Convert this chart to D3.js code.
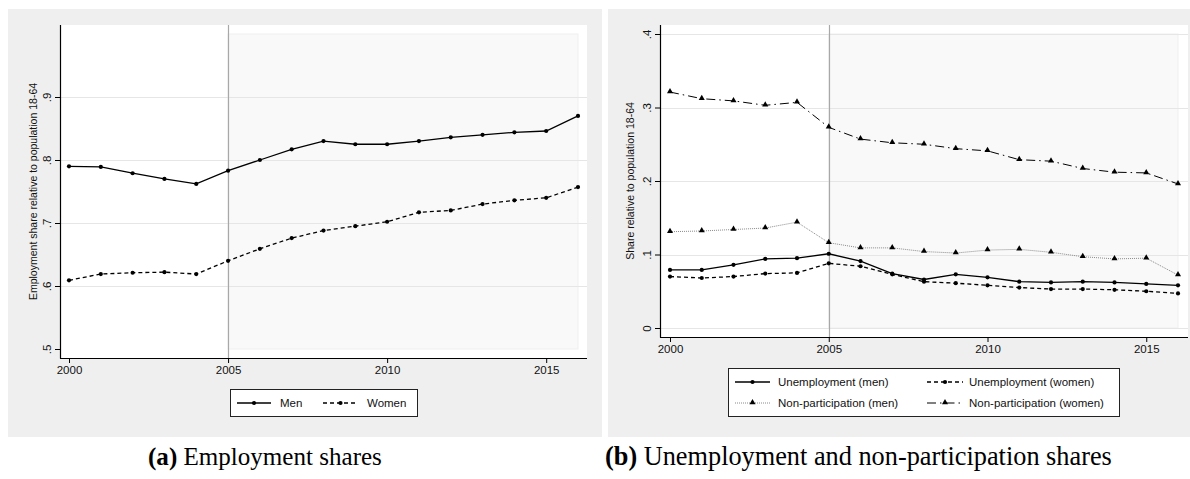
<!DOCTYPE html>
<html>
<head>
<meta charset="utf-8">
<script src="https://cdn.jsdelivr.net/npm/d3@7/dist/d3.min.js"></script>
<style>
  body { margin: 0; background: #ffffff; }
  svg { display: block; }
  text { font-family: "Liberation Sans", Arial, sans-serif; fill: #111; }
  .caption, .caption tspan { font-family: "Liberation Serif", "DejaVu Serif", serif; fill: #000; }
</style>
</head>
<body>
<svg id="chart" width="1190" height="479"></svg>
<script>
// ---- Data -----------------------------------------------------------------
const years = [2000, 2001, 2002, 2003, 2004, 2005, 2006, 2007, 2008,
               2009, 2010, 2011, 2012, 2013, 2014, 2015, 2016];
const xTickYears = [2000, 2005, 2010, 2015];

// Employment share relative to population 18-64
const employmentMen   = [.790, .789, .779, .770, .762, .783, .800, .817, .830,
                         .825, .825, .830, .836, .840, .844, .846, .870];
const employmentWomen = [.609, .619, .621, .622, .619, .640, .659, .676, .688,
                         .695, .702, .717, .720, .730, .736, .740, .757];

// Unemployment and non-participation shares
const unemploymentMen      = [.079, .079, .086, .094, .095, .101, .091, .074, .066,
                              .073, .069, .063, .062, .063, .062, .060, .058];
const unemploymentWomen    = [.070, .068, .070, .074, .075, .088, .084, .073, .063,
                              .061, .058, .055, .053, .053, .052, .050, .047];
const nonParticipationMen  = [.131, .132, .134, .136, .144, .116, .109, .109, .104,
                              .102, .106, .107, .103, .097, .094, .095, .072];
const nonParticipationWomen= [.321, .312, .309, .303, .307, .273, .257, .252, .250,
                              .244, .241, .229, .227, .217, .212, .211, .196];

const yTicksA = [.5, .6, .7, .8, .9];
const yTickLabelsA = [".5", ".6", ".7", ".8", ".9"];
const yTicksB = [0, .1, .2, .3, .4];
const yTickLabelsB = ["0", ".1", ".2", ".3", ".4"];

const legendA = ["Men", "Women"];
const legendB = ["Unemployment (men)", "Unemployment (women)",
                 "Non-participation (men)", "Non-participation (women)"];

const captionA = ["(a)", " Employment shares"];
const captionB = ["(b)", " Unemployment and non-participation shares"];

// ---- Styles ---------------------------------------------------------------
const styles = {
  solid:    { stroke: "#000", width: 1.3, dash: null, marker: "dot" },
  dashed:   { stroke: "#000", width: 1.3, dash: "4,3", marker: "dot" },
  dotted:   { stroke: "#8a8a8a", width: 1, dash: "1,1", marker: "tri" },
  dashdot:  { stroke: "#000", width: 1, dash: "9,4,1.5,4", marker: "tri" }
};

const svg = d3.select("#chart");

function marker(g, kind, cx, cy) {
  if (kind === "dot") {
    g.append("circle").attr("cx", cx).attr("cy", cy).attr("r", 2.1).attr("fill", "#000");
  } else {
    const s = d3.symbol().type(d3.symbolTriangle).size(16);
    g.append("path").attr("d", s()).attr("transform", `translate(${cx},${cy - 0.5})`).attr("fill", "#000");
  }
}

function drawPanel(cfg) {
  const g = svg.append("g");
  const { box, plot } = cfg;

  // panel background and plot region
  g.append("rect").attr("x", box.x0).attr("y", box.y0)
    .attr("width", box.x1 - box.x0).attr("height", box.y1 - box.y0).attr("fill", "#efefef");
  g.append("rect").attr("x", plot.x0).attr("y", plot.y0)
    .attr("width", plot.x1 - plot.x0).attr("height", plot.y1 - plot.y0).attr("fill", "#ffffff");

  const x = d3.scaleLinear().domain([2000, 2016]).range(cfg.xRange);
  const y = d3.scaleLinear().domain(cfg.yDomain).range(cfg.yRange);

  // shaded post-2005 window
  g.append("rect")
    .attr("x", x(2005)).attr("y", y(cfg.shadeY[1]))
    .attr("width", x(2016) - x(2005)).attr("height", y(cfg.shadeY[0]) - y(cfg.shadeY[1]))
    .attr("fill", "#f9f9f9").attr("stroke", "#efefef").attr("stroke-width", 1);

  // horizontal grid
  g.selectAll(".grid").data(cfg.gridVals).join("line")
    .attr("x1", plot.x0).attr("x2", plot.x1)
    .attr("y1", d => Math.round(y(d)) + 0.5).attr("y2", d => Math.round(y(d)) + 0.5)
    .attr("stroke", "#e6e6e6").attr("stroke-width", 1);

  // reference year line
  g.append("line")
    .attr("x1", Math.round(x(2005)) + 0.5).attr("x2", Math.round(x(2005)) + 0.5)
    .attr("y1", plot.y0).attr("y2", plot.y1)
    .attr("stroke", "#a8a8a8").attr("stroke-width", 1.2);

  // axes
  const xAxis = d3.axisBottom(x).tickValues(xTickYears).tickFormat(d3.format("d"))
    .tickSize(5).tickPadding(3);
  const xg = g.append("g").attr("transform", `translate(0,${plot.y1})`).call(xAxis);
  xg.select(".domain").remove();
  xg.selectAll("line").attr("stroke", "#000");
  xg.selectAll("text").attr("font-size", 11.5).attr("fill", "#111")
    .attr("font-family", '"Liberation Sans", Arial, sans-serif');

  const yAxis = d3.axisLeft(y).tickValues(cfg.yTicks)
    .tickFormat((d, i) => cfg.yTickLabels[i]).tickSize(5);
  const yg = g.append("g").attr("transform", `translate(${plot.x0},0)`).call(yAxis);
  yg.select(".domain").remove();
  yg.selectAll("line").attr("stroke", "#000");
  yg.selectAll("text")
    .attr("x", null).attr("y", 0).attr("dy", "0.35em")
    .attr("text-anchor", "middle")
    .attr("transform", "translate(-13,0) rotate(-90)")
    .attr("font-size", 11.5).attr("fill", "#111")
    .attr("font-family", '"Liberation Sans", Arial, sans-serif');

  g.append("line").attr("x1", plot.x0 + 0.5).attr("x2", plot.x0 + 0.5)
    .attr("y1", plot.y0).attr("y2", plot.y1 + 0.5).attr("stroke", "#000").attr("stroke-width", 1.2);
  g.append("line").attr("x1", plot.x0).attr("x2", plot.x1)
    .attr("y1", plot.y1 + 0.5).attr("y2", plot.y1 + 0.5).attr("stroke", "#000").attr("stroke-width", 1.2);

  // axis title
  g.append("text")
    .attr("transform", `translate(${cfg.titleX},${(plot.y0 + plot.y1) / 2}) rotate(-90)`)
    .attr("text-anchor", "middle").attr("dy", "0.35em")
    .attr("font-size", 10.5).text(cfg.yTitle);

  // series
  const line = d3.line().x((d, i) => x(years[i])).y(d => y(d));
  cfg.series.forEach(s => {
    const st = styles[s.style];
    g.append("path").attr("d", line(s.values)).attr("fill", "none")
      .attr("stroke", st.stroke).attr("stroke-width", st.width)
      .attr("stroke-dasharray", st.dash);
    const mg = g.append("g");
    s.values.forEach((v, i) => marker(mg, st.marker, x(years[i]), y(v)));
  });

  // legend
  const L = cfg.legend;
  g.append("rect").attr("x", L.x0 + 0.5).attr("y", L.y0 + 0.5)
    .attr("width", L.x1 - L.x0).attr("height", L.y1 - L.y0)
    .attr("fill", "#fff").attr("stroke", "#222").attr("stroke-width", 1);
  L.items.forEach(it => {
    const st = styles[it.style];
    g.append("line").attr("x1", it.sx0).attr("x2", it.sx1).attr("y1", it.y).attr("y2", it.y)
      .attr("stroke", st.stroke).attr("stroke-width", st.width).attr("stroke-dasharray", st.dash);
    marker(g, st.marker, (it.sx0 + it.sx1) / 2, it.y);
    g.append("text").attr("x", it.tx).attr("y", it.y).attr("dy", "0.35em")
      .attr("font-size", 11.5).text(it.label);
  });
}

drawPanel({
  box:  { x0: 8, y0: 9, x1: 602, y1: 437 },
  plot: { x0: 60, y0: 25, x1: 587, y1: 358 },
  xRange: [69, 578],
  yDomain: [.5, .9], yRange: [349, 97],
  yTicks: yTicksA, yTickLabels: yTickLabelsA,
  gridVals: [.6, .7, .8, .9],
  shadeY: [.5, 1.0],
  titleX: 33,
  yTitle: "Employment share relative to population 18-64",
  series: [
    { values: employmentMen, style: "solid" },
    { values: employmentWomen, style: "dashed" }
  ],
  legend: {
    x0: 230, y0: 389, x1: 417, y1: 416,
    items: [
      { label: legendA[0], style: "solid",  sx0: 237, sx1: 271, tx: 280, y: 403 },
      { label: legendA[1], style: "dashed", sx0: 323, sx1: 358, tx: 367, y: 403 }
    ]
  }
});

drawPanel({
  box:  { x0: 608, y0: 9, x1: 1190, y1: 437 },
  plot: { x0: 660, y0: 25, x1: 1188, y1: 337 },
  xRange: [670, 1178],
  yDomain: [0, .4], yRange: [328, 34],
  yTicks: yTicksB, yTickLabels: yTickLabelsB,
  gridVals: [0, .1, .2, .3, .4],
  shadeY: [0, .4],
  titleX: 630,
  yTitle: "Share relative to population 18-64",
  series: [
    { values: nonParticipationMen, style: "dotted" },
    { values: nonParticipationWomen, style: "dashdot" },
    { values: unemploymentWomen, style: "dashed" },
    { values: unemploymentMen, style: "solid" }
  ],
  legend: {
    x0: 728, y0: 368, x1: 1119, y1: 416,
    items: [
      { label: legendB[0], style: "solid",   sx0: 735, sx1: 770, tx: 778, y: 382 },
      { label: legendB[1], style: "dashed",  sx0: 927, sx1: 963, tx: 969, y: 382 },
      { label: legendB[2], style: "dotted",  sx0: 735, sx1: 770, tx: 778, y: 403 },
      { label: legendB[3], style: "dashdot", sx0: 927, sx1: 963, tx: 969, y: 403 }
    ]
  }
});

// ---- Sub-figure captions --------------------------------------------------
function caption(parts, xLeft, xRight, baseline) {
  const t = svg.append("text").attr("class", "caption")
    .attr("x", xLeft).attr("y", baseline).attr("font-size", 20);
  t.append("tspan").attr("font-weight", "bold").text(parts[0]);
  t.append("tspan").text(parts[1]);
  const w = t.node().getComputedTextLength();
  const fs = 20 * (xRight - xLeft) / w;
  t.attr("font-size", fs);
}
caption(captionA, 148, 382, 465);
caption(captionB, 605, 1112, 465);
</script>
</body>
</html>
